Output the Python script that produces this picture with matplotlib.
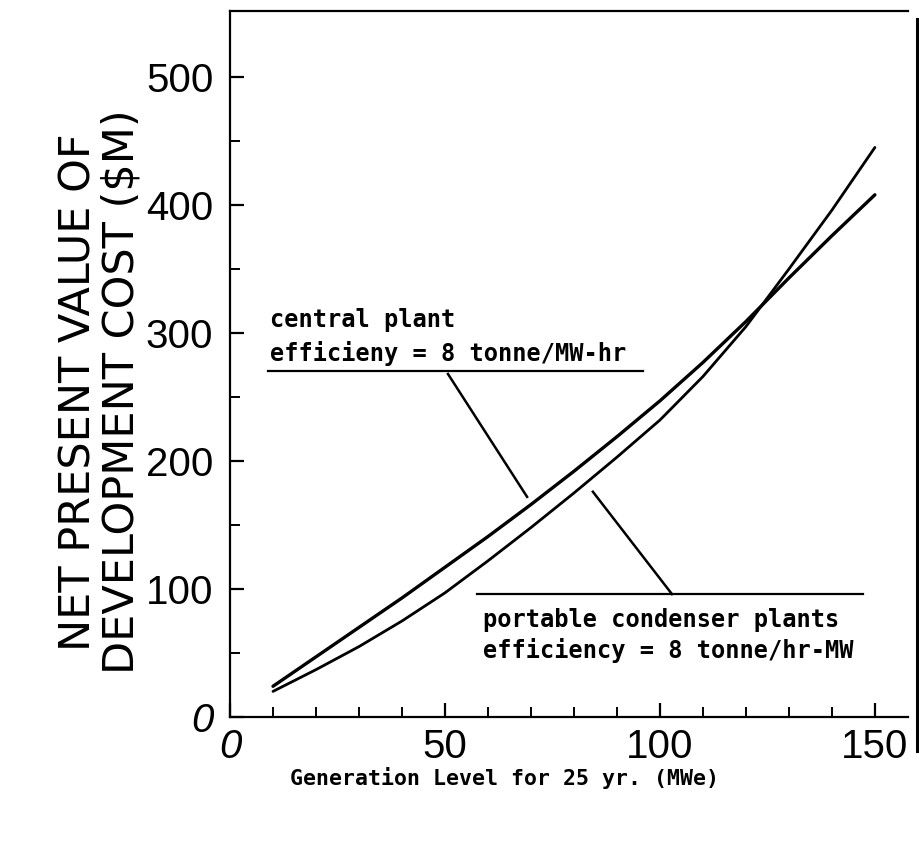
import numpy as np
import matplotlib.pyplot as plt
from matplotlib.lines import Line2D

# generation level (MWe) and NPV of development cost ($M)
gen_level = [10, 20, 30, 40, 50, 60, 70, 80, 90, 100, 110, 120, 130, 140, 150]
central_plant = [24, 47, 70, 93, 117, 141, 166, 192, 219, 247, 277, 309, 343, 376, 408]
portable_plants = [20, 37, 55, 75, 97, 122, 148, 175, 203, 232, 266, 305, 350, 396, 445]

xticks = [0, 50, 100, 150]
yticks = [0, 100, 200, 300, 400, 500]

W, H = 919, 847
fig = plt.figure(figsize=(W / 100, H / 100), dpi=100)
ax = fig.add_axes([230 / W, 1 - 717 / H, (908 - 230) / W, (717 - 11) / H])

ax.plot(gen_level, central_plant, color='k', lw=2.4, solid_capstyle='round')
ax.plot(gen_level, portable_plants, color='k', lw=2.0, solid_capstyle='round')

ax.set_xlim(0, 157.7)
ax.set_ylim(0, 551.6)

ax.spines['right'].set_visible(False)
for s in ['left', 'bottom', 'top']:
    ax.spines[s].set_linewidth(1.6)

ax.set_xticks(xticks, labels=[str(v) for v in xticks])
ax.set_yticks(yticks, labels=[str(v) for v in yticks])
ax.set_xticks(np.arange(10, 151, 10), minor=True)
ax.set_yticks(np.arange(50, 451, 100), minor=True)
ax.tick_params(which='major', direction='in', length=10, width=1.6,
               labelsize=29, top=False, right=False)
ax.tick_params(which='minor', direction='in', length=7, width=1.4,
               top=False, right=False)
ax.tick_params(axis='x', which='major', pad=8)
ax.tick_params(axis='y', which='major', pad=12)
for lab in ax.get_xticklabels() + ax.get_yticklabels():
    lab.set_family('Liberation Sans')
ax.get_xticklabels()[0].set_style('italic')
ax.get_yticklabels()[0].set_style('italic')

# annotations
mono = dict(family='DejaVu Sans Mono', fontweight='bold', fontsize=17, va='center')
ax.text(9.3, 310, 'central plant', **mono)
ax.text(9.3, 284, 'efficieny = 8 tonne/MW-hr', **mono)
ax.plot([8.8, 96], [270.3, 270.3], color='k', lw=1.6)
ax.plot([50.7, 69.1], [268, 172], color='k', lw=1.8)

ax.text(58.8, 75.8, 'portable condenser plants', **mono)
ax.text(58.8, 52.3, 'efficiency = 8 tonne/hr-MW', **mono)
ax.plot([57.4, 147.2], [96, 96], color='k', lw=1.6)
ax.plot([102.8, 84.4], [96, 176], color='k', lw=1.8)

fig.text(504 / W, 1 - 778 / H, 'Generation Level for 25 yr. (MWe)',
         family='DejaVu Sans Mono', fontweight='bold', fontsize=15.5,
         ha='center', va='center')
fig.text(100 / W, 1 - 392 / H, 'NET PRESENT VALUE OF\nDEVELOPMENT COST ($M)',
         rotation=90, ha='center', va='center', fontsize=31,
         family='DejaVu Sans', linespacing=1.05)

# separate frame line on the right edge
fig.add_artist(Line2D([917 / W, 917 / W], [1 - 751 / H, 1 - 19 / H],
                      color='k', lw=2.2, transform=fig.transFigure))

plt.savefig('out.png', dpi=100)
plt.close('all')
